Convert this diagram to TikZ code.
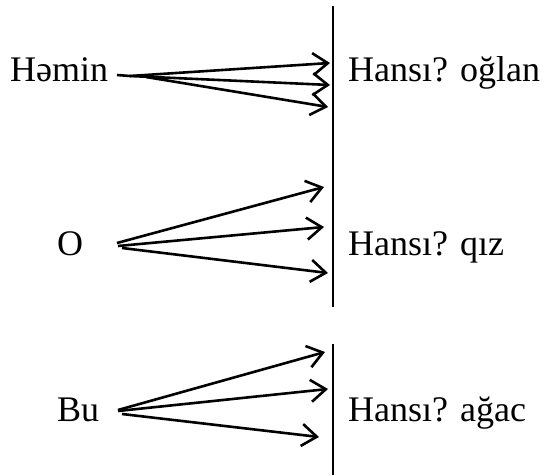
\documentclass[tikz,border=0pt]{standalone}
\usepackage{fontspec}
\setmainfont{Liberation Serif}
\usetikzlibrary{arrows.meta}
\begin{document}
\begin{tikzpicture}[x=1pt,y=1pt,
  lbl/.style={anchor=base west,inner sep=0pt,font=\fontsize{36}{40}\selectfont},
  arr/.style={line width=2.6pt,-{Straight Barb[length=15pt,width=22pt,line width=2.6pt]}},
  bar/.style={line width=2.6pt}]
\useasboundingbox (0,0) rectangle (544,475);
% texts
\node[lbl] (hemin) at (10,393) {Həmin};
\node[lbl] (ans1) at (348,393) {Hansı? oğlan};
\node[lbl] (o) at (57,220) {O};
\node[lbl] (ans2) at (348,220) {Hansı? qız};
\node[lbl] (bu) at (57,54) {Bu};
\node[lbl] (ans3) at (348,54) {Hansı? ağac};
% vertical lines
\coordinate (v1t) at (333,469);
\coordinate (v1b) at (333,168);
\coordinate (v2t) at (333,131);
\coordinate (v2b) at (333,0);
\draw[bar] (v1t) -- (v1b);
\draw[bar] (v2t) -- (v2b);
% top group
\coordinate (d0) at (117,400);
\coordinate (s1) at (130,399);
\coordinate (s1c) at (146,398);
\coordinate (t1a) at (330,412);
\coordinate (t1b) at (330,390);
\coordinate (t1c) at (328,368);
\draw[line width=2.6pt] (d0) -- (s1);
\draw[arr] (s1) -- (t1a);
\draw[arr] (s1) -- (t1b);
\draw[arr] (s1c) -- (t1c);
% middle group
\coordinate (s2a) at (117,232);
\coordinate (s2b) at (118,229);
\coordinate (s2c) at (122,227);
\coordinate (t2a) at (324,288);
\coordinate (t2b) at (324,248);
\coordinate (t2c) at (328,202);
\draw[arr] (s2a) -- (t2a);
\draw[arr] (s2b) -- (t2b);
\draw[arr] (s2c) -- (t2c);
% bottom group
\coordinate (s3a) at (118,65);
\coordinate (s3b) at (118,64);
\coordinate (s3c) at (122,61);
\coordinate (t3a) at (325,123);
\coordinate (t3b) at (328,86);
\coordinate (t3c) at (319,38);
\draw[arr] (s3a) -- (t3a);
\draw[arr] (s3b) -- (t3b);
\draw[arr] (s3c) -- (t3c);
\end{tikzpicture}
\end{document}
